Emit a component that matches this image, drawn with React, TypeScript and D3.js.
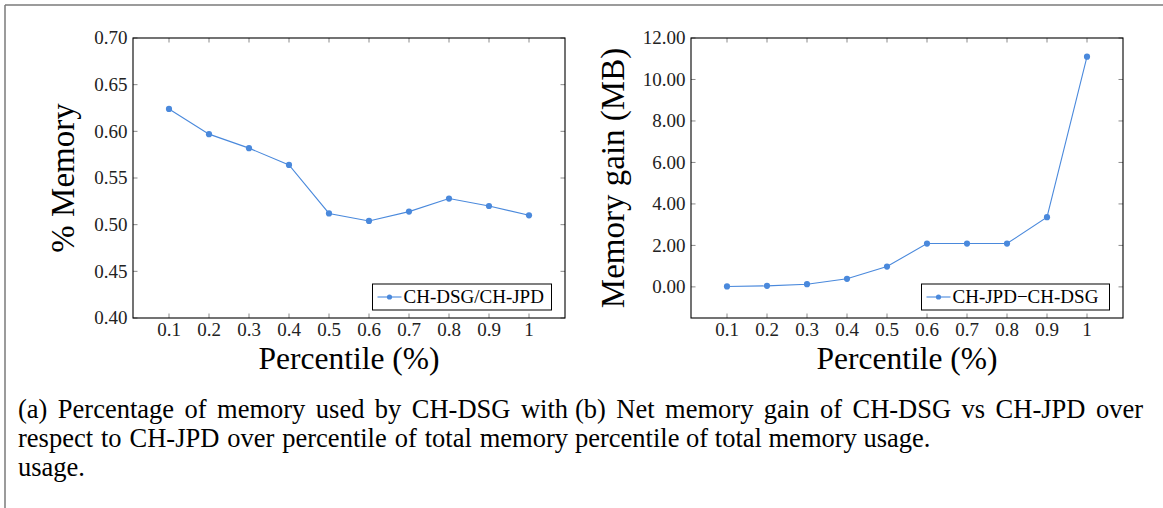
import React, { useRef, useLayoutEffect } from "react";
import { scaleLinear, line, format } from "d3";

const W = 1163;
const H = 508;

// data
const percentiles = [0.1, 0.2, 0.3, 0.4, 0.5, 0.6, 0.7, 0.8, 0.9, 1];
const xTickLabels = ["0.1", "0.2", "0.3", "0.4", "0.5", "0.6", "0.7", "0.8", "0.9", "1"];
const memoryRatio = [0.624, 0.597, 0.582, 0.564, 0.512, 0.504, 0.514, 0.528, 0.52, 0.51];
const memoryGain = [0.02, 0.05, 0.13, 0.39, 0.98, 2.09, 2.09, 2.09, 3.36, 11.1];
const ratioTicks = [0.4, 0.45, 0.5, 0.55, 0.6, 0.65, 0.7];
const gainTicks = [0, 2, 4, 6, 8, 10, 12];

const captionA = [
  "(a) Percentage of memory used by CH-DSG with",
  "respect to CH-JPD over percentile of total memory",
  "usage.",
];
const captionB = [
  "(b) Net memory gain of CH-DSG vs CH-JPD over",
  "percentile of total memory usage.",
];

const BLUE = "#4a89dc";
const TICK = "#8a8a8a";
const SERIF = "Liberation Serif, DejaVu Serif, serif";

function Panel({ box, values, yDomain, yTicks, yLabel, yLabelX, legend }) {
  const { left, right, top, bottom } = box;
  const x = scaleLinear().domain([0.01, 1.09]).range([left, right]);
  const y = scaleLinear().domain(yDomain).range([bottom, top]);
  const fmt = format(".2f");
  const path = line<number>()
    .x((d, i) => x(percentiles[i]))
    .y((d) => y(d))(values);

  const legW = legend.width;
  const legR = right - 13.5;
  const legB = bottom - 8;
  const legL = legR - legW;
  const legT = legB - 26;
  const cx = (left + right) / 2;
  const cy = (top + bottom) / 2;

  return (
    <g>
      {/* ticks, inside on all four sides */}
      {percentiles.map((p, i) => (
        <g key={"xt" + i} stroke={TICK} strokeWidth={1}>
          <line x1={x(p)} x2={x(p)} y1={bottom} y2={bottom - 4.5} />
          <line x1={x(p)} x2={x(p)} y1={top} y2={top + 4.5} />
        </g>
      ))}
      {yTicks.map((t, i) => (
        <g key={"yt" + i} stroke={TICK} strokeWidth={1}>
          <line x1={left} x2={left + 4.5} y1={y(t)} y2={y(t)} />
          <line x1={right} x2={right - 4.5} y1={y(t)} y2={y(t)} />
        </g>
      ))}
      <rect x={left} y={top} width={right - left} height={bottom - top} fill="none" stroke="#000" strokeWidth={1.1} />

      {/* tick labels */}
      {percentiles.map((p, i) => (
        <text key={"xl" + i} x={x(p)} y={bottom + 18} textAnchor="middle" fontFamily={SERIF} fontSize={19} fill="#222">
          {xTickLabels[i]}
        </text>
      ))}
      {yTicks.map((t, i) => (
        <text key={"yl" + i} x={left - 5.5} y={y(t)} dy="0.34em" textAnchor="end" fontFamily={SERIF} fontSize={19} fill="#222">
          {fmt(t)}
        </text>
      ))}

      {/* axis titles */}
      <text x={cx} y={369} textAnchor="middle" fontFamily={SERIF} fontSize={31.5} fill="#000">
        Percentile (%)
      </text>
      <text transform={`translate(${yLabelX},${cy}) rotate(-90)`} textAnchor="middle" fontFamily={SERIF} fontSize={33} fill="#000">
        {yLabel}
      </text>

      {/* series */}
      <path d={path} fill="none" stroke={BLUE} strokeWidth={1.1} />
      {values.map((v, i) => (
        <circle key={"pt" + i} cx={x(percentiles[i])} cy={y(v)} r={3.1} fill={BLUE} />
      ))}

      {/* legend */}
      <rect x={legL} y={legT} width={legW} height={26} fill="#fff" stroke="#000" strokeWidth={1} />
      <line x1={legL + 5} x2={legL + 29} y1={legT + 13} y2={legT + 13} stroke={BLUE} strokeWidth={1.1} />
      <circle cx={legL + 17} cy={legT + 13} r={2.6} fill={BLUE} />
      <text x={legL + 31} y={legT + 19} fontFamily={SERIF} fontSize={19} fill="#000">
        {legend.text}
      </text>
    </g>
  );
}

function CaptionLine({ text, x, y, width }) {
  const ref = useRef<SVGTextElement>(null);
  useLayoutEffect(() => {
    const el = ref.current;
    if (!el || !width) return;
    el.style.wordSpacing = "0px";
    const natural = el.getComputedTextLength();
    const spaces = (text.match(/ /g) || []).length;
    if (spaces > 0) el.style.wordSpacing = `${Math.max(0, (width - natural) / spaces)}px`;
  }, [text, width]);
  return (
    <text ref={ref} x={x} y={y} fontFamily={SERIF} fontSize={26.5} fill="#000">
      {text}
    </text>
  );
}

export default function App() {
  const colA = { x: 18, w: 550 };
  const colB = { x: 575, w: 568 };
  const baselines = [418, 447, 476];
  return (
    <svg width={W} height={H} style={{ position: "absolute", left: 0, top: 0, background: "#fff" }}>
      <line x1={5} x2={W} y1={5} y2={5} stroke="#7a7a7a" strokeWidth={1.5} />
      <line x1={5} x2={5} y1={5} y2={H} stroke="#7a7a7a" strokeWidth={1.5} />

      <Panel
        box={{ left: 133, right: 565, top: 38, bottom: 318 }}
        values={memoryRatio}
        yDomain={[0.4, 0.7]}
        yTicks={ratioTicks}
        yLabel="% Memory"
        yLabelX={74}
        legend={{ text: "CH-DSG/CH-JPD", width: 179 }}
      />
      <Panel
        box={{ left: 691, right: 1123, top: 38, bottom: 318 }}
        values={memoryGain}
        yDomain={[-1.5, 12]}
        yTicks={gainTicks}
        yLabel="Memory gain (MB)"
        yLabelX={624}
        legend={{ text: "CH-JPD\u2212CH-DSG", width: 188 }}
      />

      {captionA.map((t, i) => (
        <CaptionLine key={"a" + i} text={t} x={colA.x} y={baselines[i]} width={i < 2 ? colA.w : 0} />
      ))}
      {captionB.map((t, i) => (
        <CaptionLine key={"b" + i} text={t} x={colB.x} y={baselines[i]} width={i < 1 ? colB.w : 0} />
      ))}
    </svg>
  );
}
